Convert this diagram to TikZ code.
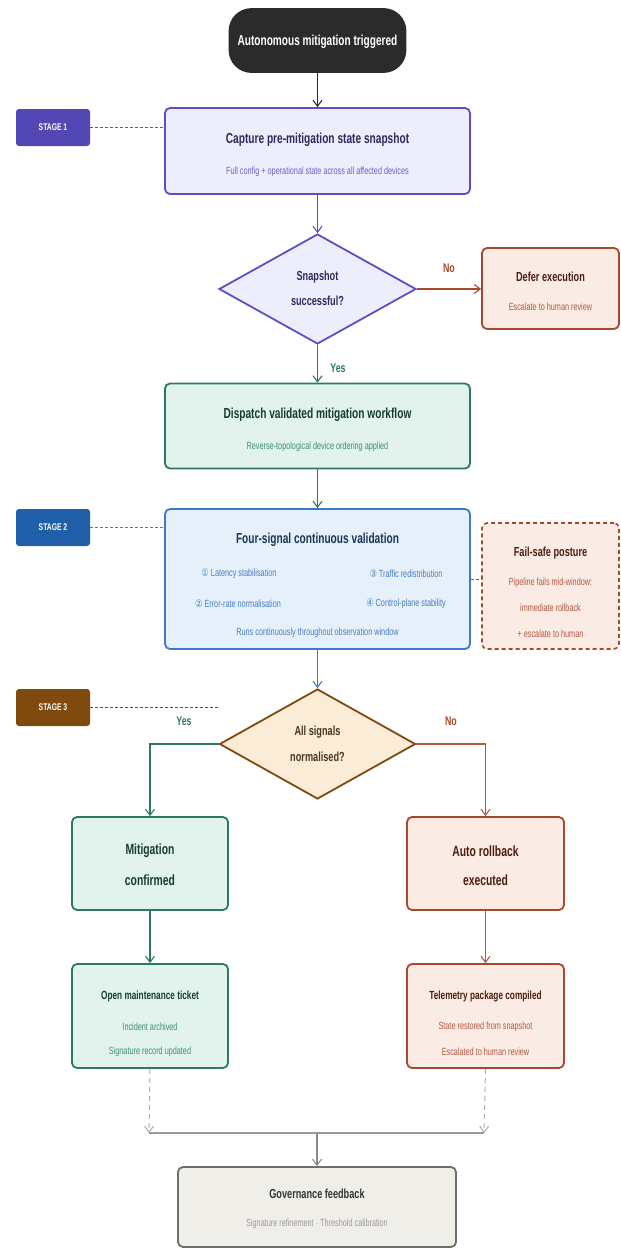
\documentclass[tikz,border=0pt]{standalone}
\usepackage{fontspec}
\setmainfont[FakeStretch=0.7]{Liberation Sans}
\newfontfamily\symfont[FakeStretch=0.8]{DejaVu Sans}
\usetikzlibrary{shapes.geometric,arrows.meta}

% palette
\definecolor{inkdark}{HTML}{2B2B2B}
\definecolor{purBorder}{HTML}{5B4FC4}
\definecolor{purFill}{HTML}{EEEDFC}
\definecolor{purTitle}{HTML}{2D2A5C}
\definecolor{purSub}{HTML}{6B60CC}
\definecolor{purStage}{HTML}{5247B5}
\definecolor{grnBorder}{HTML}{2B7A5F}
\definecolor{grnFill}{HTML}{E1F3EC}
\definecolor{grnTitle}{HTML}{173D30}
\definecolor{grnSub}{HTML}{3F8F72}
\definecolor{bluBorder}{HTML}{3D7CC4}
\definecolor{bluFill}{HTML}{E6F0FA}
\definecolor{bluTitle}{HTML}{1D3557}
\definecolor{bluSub}{HTML}{4B7FC0}
\definecolor{bluStage}{HTML}{1F5EA8}
\definecolor{rstBorder}{HTML}{A9492C}
\definecolor{rstFill}{HTML}{FBEBE5}
\definecolor{rstTitle}{HTML}{4A1E12}
\definecolor{rstSub}{HTML}{B05A40}
\definecolor{brnBorder}{HTML}{7F4A0D}
\definecolor{brnFill}{HTML}{FBECD8}
\definecolor{brnTitle}{HTML}{4A3520}
\definecolor{gryBorder}{HTML}{6E6E6E}
\definecolor{gryFill}{HTML}{F0EEE8}
\definecolor{gryTitle}{HTML}{333333}
\definecolor{grySub}{HTML}{9A9A9A}
\definecolor{gryLine}{HTML}{9A9A9A}

\tikzset{
  box/.style={draw, rounded corners=5pt, line width=1.8pt, inner sep=0pt},
  decision/.style={draw, diamond, line width=1.8pt, inner sep=0pt},
  stagebox/.style={rounded corners=3pt, minimum width=74pt, minimum height=37pt,
    text=white, font=\bfseries\fontsize{9.7}{11}\selectfont},
  ttl/.style={font=\bfseries\fontsize{14.5}{17}\selectfont},
  ttlbig/.style={font=\bfseries\fontsize{14.8}{17}\selectfont},
  ttlsm/.style={font=\bfseries\fontsize{13.1}{15}\selectfont},
  ttlxs/.style={font=\bfseries\fontsize{11.8}{14}\selectfont},
  sub/.style={font=\fontsize{10.4}{12}\selectfont},
  lbl/.style={font=\bfseries\fontsize{12.6}{14}\selectfont},
  flow/.style={line width=1.1pt, -{Straight Barb[length=6pt,width=9pt,line width=1.1pt]}},
  guide/.style={line width=0.8pt, dashed, dash pattern=on 3pt off 2pt},
}

\begin{document}
\begin{tikzpicture}[x=1pt, y=-1pt]
\useasboundingbox (0,0) rectangle (621,1248);

% ---- main column ----
\node[box, fill=inkdark, draw=inkdark, rounded corners=22pt,
      minimum width=176pt, minimum height=63pt] (start) at (317.5,40.5) {};
\node[font=\bfseries\fontsize{14.4}{17}\selectfont, text=white] (startT) at (317.5,42) {Autonomous mitigation triggered};

\node[box, fill=purFill, draw=purBorder, minimum width=305pt, minimum height=86pt] (cap) at (317.5,151) {};
\node[ttl, text=purTitle] (capT) at (317.5,140) {Capture pre-mitigation state snapshot};
\node[sub, text=purSub] (capS) at (317.5,172) {Full config + operational state across all affected devices};

\node[decision, fill=purFill, draw=purBorder, minimum width=197pt, minimum height=110pt] (d1) at (317.5,289) {};
\node[ttlsm, text=purTitle] (d1a) at (317.5,277) {Snapshot};
\node[ttlsm, text=purTitle] (d1b) at (317.5,301) {successful?};

\node[box, fill=rstFill, draw=rstBorder, minimum width=137pt, minimum height=81pt] (defer) at (550.5,288.5) {};
\node[ttlsm, text=rstTitle] (deferT) at (550.5,277) {Defer execution};
\node[sub, text=rstSub] (deferS) at (550.5,307) {Escalate to human review};

\node[box, fill=grnFill, draw=grnBorder, minimum width=305pt, minimum height=85pt] (disp) at (317.5,426) {};
\node[ttl, text=grnTitle] (dispT) at (317.5,415) {Dispatch validated mitigation workflow};
\node[sub, text=grnSub] (dispS) at (317.5,447) {Reverse-topological device ordering applied};

\node[box, fill=bluFill, draw=bluBorder, minimum width=305pt, minimum height=140pt] (four) at (317.5,579) {};
\node[ttl, text=bluTitle] (fourT) at (317.5,540) {Four-signal continuous validation};
\node[sub, text=bluSub] (sig1) at (239,574) {{\symfont ①} Latency stabilisation};
\node[sub, text=bluSub] (sig3) at (406,574) {{\symfont ③} Traffic redistribution};
\node[sub, text=bluSub] (sig2) at (238,604) {{\symfont ②} Error-rate normalisation};
\node[sub, text=bluSub] (sig4) at (406,604) {{\symfont ④} Control-plane stability};
\node[sub, text=bluSub] (fourS) at (317.5,633) {Runs continuously throughout observation window};

\node[box, fill=rstFill, draw=rstBorder, dashed, dash pattern=on 4pt off 3pt, line width=1.6pt,
      minimum width=137pt, minimum height=126pt] (fs) at (550.5,586) {};
\node[ttlsm, text=rstTitle] (fsT) at (550.5,553) {Fail-safe posture};
\node[sub, text=rstSub] (fs1) at (550.5,583) {Pipeline fails mid-window:};
\node[sub, text=rstSub] (fs2) at (550.5,608) {immediate rollback};
\node[sub, text=rstSub] (fs3) at (550.5,634) {+ escalate to human};

\node[decision, fill=brnFill, draw=brnBorder, minimum width=196pt, minimum height=110pt] (d2) at (317.5,744) {};
\node[ttlsm, text=brnTitle] (d2a) at (317.5,732) {All signals};
\node[ttlsm, text=brnTitle] (d2b) at (317.5,757) {normalised?};

% ---- outcome branches ----
\node[box, fill=grnFill, draw=grnBorder, minimum width=156pt, minimum height=93pt] (mit) at (150,863.5) {};
\node[ttlbig, text=grnTitle] (mitA) at (150,851) {Mitigation};
\node[ttlbig, text=grnTitle] (mitB) at (150,880) {confirmed};

\node[box, fill=rstFill, draw=rstBorder, minimum width=157pt, minimum height=93pt] (roll) at (485.5,863.5) {};
\node[ttlbig, text=rstTitle] (rollA) at (485.5,851) {Auto rollback};
\node[ttlbig, text=rstTitle] (rollB) at (485.5,880) {executed};

\node[box, fill=grnFill, draw=grnBorder, minimum width=156pt, minimum height=104pt] (ticket) at (150,1016) {};
\node[ttlxs, text=grnTitle] (ticketT) at (150,996) {Open maintenance ticket};
\node[sub, text=grnSub] (ticket1) at (150,1027) {Incident archived};
\node[sub, text=grnSub] (ticket2) at (150,1052) {Signature record updated};

\node[box, fill=rstFill, draw=rstBorder, minimum width=157pt, minimum height=104pt] (tele) at (485.5,1016) {};
\node[ttlxs, text=rstTitle] (teleT) at (485.5,996) {Telemetry package compiled};
\node[sub, text=rstSub] (tele1) at (485.5,1027) {State restored from snapshot};
\node[sub, text=rstSub] (tele2) at (485.5,1052) {Escalated to human review};

\node[box, fill=gryFill, draw=gryBorder, minimum width=278pt, minimum height=80pt] (gov) at (317,1207) {};
\node[ttlsm, text=gryTitle] (govT) at (317,1194) {Governance feedback};
\node[sub, text=grySub] (govS) at (317,1224) {Signature refinement · Threshold calibration};

% ---- stage markers ----
\node[stagebox, fill=purStage] (s1) at (53,127.5) {STAGE 1};
\node[stagebox, fill=bluStage] (s2) at (53,527.5) {STAGE 2};
\node[stagebox, fill=brnBorder] (s3) at (53,707.5) {STAGE 3};
\draw[guide, draw=purBorder] (s1.east) -- (s1.east -| cap.west);
\draw[guide, draw=bluBorder] (s2.east) -- (s2.east -| four.west);
\draw[guide, draw=brnBorder] (s3.east) -- (s3.east -| d2.west);

% ---- connectors ----
\draw[flow, draw=inkdark] (start) -- (cap);
\draw[flow, draw=purBorder] (cap) -- (d1);
\draw[flow, draw=rstBorder] (d1.east) -- (d1.east -| defer.west);
\node[lbl, text=rstBorder] (noA) at (449,268) {No};
\draw[flow, draw=grnBorder] (d1.south) -- (disp.north);
\node[lbl, text=grnBorder] (yesA) at (338,368) {Yes};
\draw[flow, draw=grnBorder] (disp) -- (four);
\draw[flow, draw=bluBorder] (four) -- (d2);
\draw[guide, draw=rstBorder, line width=1pt] (four.east) -- (four.east -| fs.west);

\draw[flow, draw=grnBorder] (d2.west) -| (mit.north);
\node[lbl, text=grnBorder] (yesB) at (184,721) {Yes};
\draw[flow, draw=rstSub] (d2.east) -| (roll.north);
\node[lbl, text=rstBorder] (noB) at (451,721) {No};

\draw[flow, draw=grnBorder] (mit) -- (ticket);
\draw[flow, draw=rstSub] (roll) -- (tele);

\coordinate (mergeL) at (149,1133);
\coordinate (mergeR) at (484,1133);
\coordinate (mergeC) at (317,1133);
\draw[flow, draw=gryLine!80, line width=1pt, dashed, dash pattern=on 5pt off 4pt] (ticket.south) -- (mergeL);
\draw[flow, draw=gryLine!80, line width=1pt, dashed, dash pattern=on 5pt off 4pt] (tele.south) -- (mergeR);
\draw[draw=gryLine, line width=1.4pt] (mergeL) -- (mergeR);
\draw[flow, draw=gryBorder!80, line width=1.3pt] (mergeC) -- (gov.north);

\end{tikzpicture}
\end{document}
